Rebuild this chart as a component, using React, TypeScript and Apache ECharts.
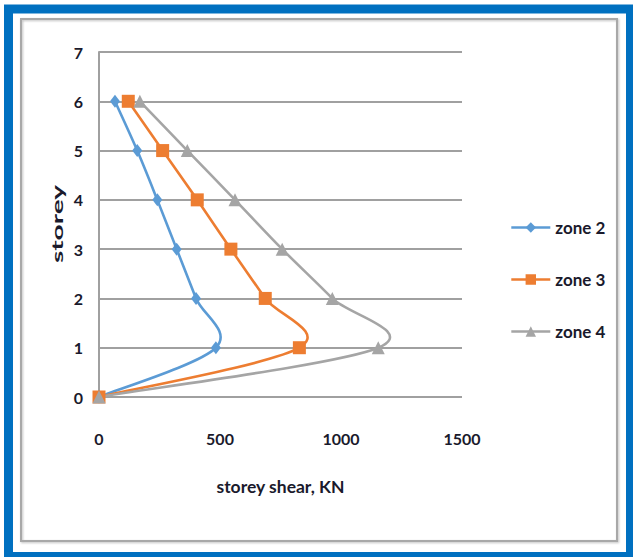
import React, { useEffect, useRef } from "react";
import * as echarts from "echarts";

// Storey levels (0 = base) and storey shear (kN) per seismic zone
const storeys = [0, 1, 2, 3, 4, 5, 6];
const zone2 = [0, 483, 401, 321, 241, 158, 66];
const zone3 = [0, 828, 687, 545, 406, 263, 121];
const zone4 = [0, 1154, 964, 757, 562, 365, 169];
const xTicks = [0, 500, 1000, 1500];
const seriesNames = ["zone 2", "zone 3", "zone 4"];
const colors = ["#5b9bd5", "#ed7d31", "#a5a5a5"];

const FONT = "Lato, 'Open Sans', sans-serif";
const TEXT_COLOR = "#1a1a2c";

function pairs(values: number[]) {
  return values.map((v, i) => [v, storeys[i]]);
}

// Smoothed connecting curve (Catmull-Rom style cubic segments) in pixel space
function curveSeries(name: string, values: number[], color: string) {
  return {
    id: name + "-curve",
    type: "custom",
    data: pairs(values),
    encode: { x: 0, y: 1 },
    silent: true,
    z: 2,
    renderItem: (params: any, api: any) => {
      if (params.dataIndex !== 0) return null;
      const pts = values.map((v, i) => api.coord([v, storeys[i]]));
      let d = `M${pts[0][0]},${pts[0][1]}`;
      for (let i = 0; i < pts.length - 1; i++) {
        const p0 = pts[Math.max(i - 1, 0)];
        const p1 = pts[i];
        const p2 = pts[i + 1];
        const p3 = pts[Math.min(i + 2, pts.length - 1)];
        const c1x = p1[0] + (p2[0] - p0[0]) / 6;
        const c1y = p1[1] + (p2[1] - p0[1]) / 6;
        const c2x = p2[0] - (p3[0] - p1[0]) / 6;
        const c2y = p2[1] - (p3[1] - p1[1]) / 6;
        d += ` C${c1x},${c1y} ${c2x},${c2y} ${p2[0]},${p2[1]}`;
      }
      return {
        type: "path",
        shape: { pathData: d },
        style: { fill: "none", stroke: color, lineWidth: 2.6 },
      };
    },
  };
}

function markerSeries(
  name: string,
  values: number[],
  color: string,
  symbol: string,
  symbolSize: number | number[]
) {
  return {
    name,
    type: "line",
    data: pairs(values),
    symbol,
    symbolSize,
    showAllSymbol: true,
    lineStyle: { color, width: 2.6, opacity: 0 },
    itemStyle: { color },
    z: 3,
  };
}

export default function App() {
  const ref = useRef<HTMLDivElement>(null);

  useEffect(() => {
    if (!ref.current) return;
    const chart = echarts.init(ref.current, undefined, { renderer: "svg" });

    const labelStyle = {
      fontFamily: FONT,
      fontSize: 17,
      fontWeight: "bold",
      color: TEXT_COLOR,
    };

    chart.setOption({
      animation: false,
      backgroundColor: "#ffffff",
      textStyle: { fontFamily: FONT },
      grid: { left: 99, top: 52, right: 171, bottom: 160, containLabel: false },
      graphic: [
        {
          type: "rect",
          shape: { x: 8.5, y: 9, width: 622, height: 547.5 },
          style: { fill: "none", stroke: "#0070c0", lineWidth: 9 },
          z: 10,
        },
        {
          type: "rect",
          shape: { x: 21, y: 19, width: 596, height: 522 },
          style: {
            fill: "none",
            stroke: "#a8a8a8",
            lineWidth: 2,
            shadowBlur: 2,
            shadowOffsetX: 1,
            shadowOffsetY: 1,
            shadowColor: "rgba(0,0,0,0.25)",
          },
          z: 10,
        },
        {
          // vertical axis title, drawn stretched along its length
          type: "text",
          x: 57,
          y: 224,
          rotation: Math.PI / 2,
          scaleX: 1.75,
          style: {
            text: "storey",
            fontFamily: FONT,
            fontSize: 16,
            fontWeight: "bold",
            fill: TEXT_COLOR,
            align: "center",
            verticalAlign: "middle",
          },
          z: 10,
        },
      ],
      legend: {
        orient: "vertical",
        left: 505,
        top: 214,
        itemWidth: 39,
        itemHeight: 13,
        itemGap: 35,
        data: seriesNames,
        lineStyle: { opacity: 1, width: 2.6 },
        textStyle: { ...labelStyle, fontSize: 17 },
      },
      xAxis: {
        type: "value",
        min: 0,
        max: 1500,
        interval: 500,
        name: "storey shear, KN",
        nameLocation: "middle",
        nameGap: 80,
        nameTextStyle: { ...labelStyle, fontSize: 17.5 },
        axisLine: { show: false },
        axisTick: { show: false },
        splitLine: { show: false },
        axisLabel: {
          ...labelStyle,
          fontSize: 16,
          margin: 33,
          customValues: xTicks,
          formatter: (v: number) => String(v),
        },
      },
      yAxis: {
        type: "value",
        min: 0,
        max: 7,
        interval: 1,
        axisLine: { show: true, lineStyle: { color: "#a0a0a0", width: 2 } },
        axisTick: { show: false },
        splitLine: { show: true, lineStyle: { color: "#a0a0a0", width: 2 } },
        axisLabel: { ...labelStyle, fontSize: 16, margin: 16 },
      },
      series: [
        curveSeries(seriesNames[0], zone2, colors[0]),
        curveSeries(seriesNames[1], zone3, colors[1]),
        curveSeries(seriesNames[2], zone4, colors[2]),
        markerSeries(seriesNames[0], zone2, colors[0], "diamond", [10, 13]),
        markerSeries(seriesNames[1], zone3, colors[1], "rect", 13),
        markerSeries(seriesNames[2], zone4, colors[2], "triangle", 13),
      ],
    });

    return () => chart.dispose();
  }, []);

  return (
    <div
      ref={ref}
      style={{ position: "fixed", left: 0, top: 0, width: 633, height: 557 }}
    />
  );
}
